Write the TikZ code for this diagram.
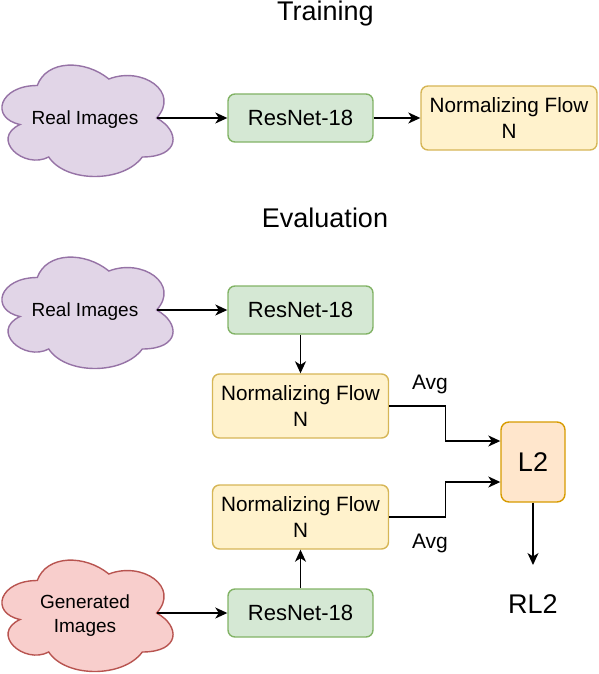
\documentclass[tikz,border=0pt]{standalone}
\usepackage{fontspec}
\setmainfont{Liberation Sans}
\usetikzlibrary{arrows.meta,calc}
\definecolor{pfill}{HTML}{E1D5E7}\definecolor{pline}{HTML}{9673A6}
\definecolor{rfill}{HTML}{F8CECC}\definecolor{rline}{HTML}{B85450}
\definecolor{gfill}{HTML}{D5E8D4}\definecolor{gline}{HTML}{82B366}
\definecolor{yfill}{HTML}{FFF2CC}\definecolor{yline}{HTML}{D6B656}
\definecolor{ofill}{HTML}{FFE6CC}\definecolor{oline}{HTML}{D79B00}
\newcommand\mycloud[3]{%
  \begin{scope}[shift={(#1,#2)}]
    \draw[#3, line width=1.4pt]
      (-47.75,-32.5) .. controls (-85.95,-32.5) and (-95.5,0) .. (-64.94,6.5)
      .. controls (-95.5,20.8) and (-61.12,52) .. (-36.29,39)
      .. controls (-19.1,65) and (38.2,65) .. (57.3,39)
      .. controls (95.5,39) and (95.5,13) .. (71.625,0)
      .. controls (95.5,-26) and (57.3,-52) .. (23.875,-39)
      .. controls (0,-58.5) and (-38.2,-58.5) .. (-47.75,-32.5) -- cycle;
  \end{scope}}
\begin{document}
\begin{tikzpicture}[x=1pt,y=-1pt,
  box/.style={draw, rounded corners=7pt, line width=1.4pt, inner sep=0pt, align=center},
  rn/.style={box, fill=gfill, draw=gline, minimum width=145pt, minimum height=48pt, font=\fontsize{22}{26}\selectfont},
  nf/.style={box, fill=yfill, draw=yline, minimum width=176pt, minimum height=64pt, font=\fontsize{20.7}{26}\selectfont},
  l2box/.style={box, fill=ofill, draw=oline, rounded corners=8pt, minimum width=64pt, minimum height=80pt, font=\fontsize{27}{30}\selectfont},
  cloudtxt/.style={inner sep=0pt, align=center, font=\fontsize{19}{24}\selectfont},
  title/.style={inner sep=0pt, anchor=base, font=\fontsize{27}{30}\selectfont},
  lbl/.style={inner sep=0pt, anchor=base, font=\fontsize{21}{24}\selectfont},
  arr/.style={-{Stealth[length=12pt,width=11pt,inset=3.5pt]}, line width=1.4pt}
]
\useasboundingbox (0,0) rectangle (598,674);

% Training
\node[title] (ttrain) at (325.5,21) {Training};
\mycloud{85}{118}{fill=pfill, draw=pline}
\node[cloudtxt] (c1) at (85,120) {Real Images};
\coordinate (c1e) at ($(c1)+(71.6,-2)$);
\node[rn] (r1) at (300.5,118) {ResNet-18};
\node[nf] (n1) at (509,118) {Normalizing Flow\\N};
\draw[arr] (c1e) -- (r1.west);
\draw[arr] (r1.east) -- (n1.west);

% Evaluation
\node[title] (teval) at (325,227) {Evaluation};
\mycloud{85}{310}{fill=pfill, draw=pline}
\node[cloudtxt] (c2) at (85,312) {Real Images};
\coordinate (c2e) at ($(c2)+(71.6,-2)$);
\node[rn] (r2) at (300.5,310) {ResNet-18};
\node[nf] (n2) at (300.5,406) {Normalizing Flow\\N};
\draw[arr] (c2e) -- (r2.west);
\draw[arr] (r2.south) -- (n2.north);

\mycloud{85}{613}{fill=rfill, draw=rline}
\node[cloudtxt] (c3) at (85,616) {Generated\\Images};
\coordinate (c3e) at ($(c3)+(71.6,-3)$);
\node[rn] (r3) at (300.5,613) {ResNet-18};
\node[nf] (n3) at (300.5,517) {Normalizing Flow\\N};
\draw[arr] (c3e) -- (r3.west);
\draw[arr] (r3.north) -- (n3.south);

\node[l2box] (l2) at (533,462) {L2};
\draw[arr] (n2.east) -- ++(56,0) |- ($(l2.west)+(0,-21)$);
\draw[arr] (n3.east) -- ++(56,0) |- ($(l2.west)+(0,20)$);
\node[lbl] (avg1) at (430,389) {Avg};
\node[lbl] (avg2) at (430,548) {Avg};
\coordinate (l2end) at (533,565);
\draw[arr] (l2.south) -- (l2end);
\node[title] (rl2) at (533,613) {RL2};
\end{tikzpicture}
\end{document}
